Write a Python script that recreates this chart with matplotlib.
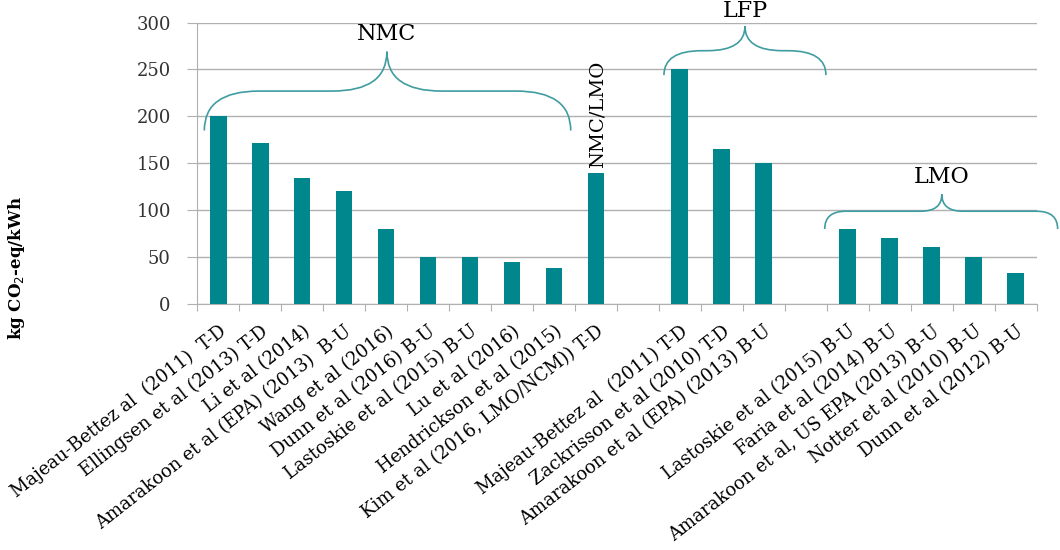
import numpy as np
import matplotlib.pyplot as plt
from matplotlib.path import Path
from matplotlib.patches import PathPatch

# studies in slot order, "" marks an empty slot between chemistry groups
studies = ["Majeau-Bettez al  (2011)  T-D", "Ellingsen et al (2013) T-D", "Li et al (2014)",
           "Amarakoon et al (EPA) (2013)  B-U", "Wang et al (2016)", "Dunn et al (2016) B-U",
           "Lastoskie et al (2015) B-U", "Lu et al (2016)", "Hendrickson et al (2015)",
           "Kim et al (2016, LMO/NCM)) T-D", "",
           "Majeau-Bettez al  (2011) T-D", "Zackrisson et al (2010) T-D", "Amarakoon et al (EPA) (2013) B-U", "",
           "Lastoskie et al (2015) B-U", "Faria et al (2014) B-U", "Amarakoon et al, US EPA (2013) B-U",
           "Notter et al (2010) B-U", "Dunn et al (2012) B-U"]
emissions = [200, 172, 134, 121, 80, 50, 50, 45, 38, 140, 0,
             250, 165, 150, 0,
             80, 70, 61, 50, 33]

bar_color = "#00878D"
brace_color = "#3F9CA0"
plt.rcParams['font.family'] = ["DejaVu Serif"]

fig = plt.figure(figsize=(10.6, 5.5), dpi=100)
ax = fig.add_axes([0.186, 0.447, 0.792, 0.512])

x = np.arange(len(studies))
heights = [v if s else np.nan for s, v in zip(studies, emissions)]
ax.bar(x, heights, width=0.4, color=bar_color, zorder=3)

ax.set_xlim(-0.5, len(studies) - 0.5)
ax.set_ylim(0, 300)
ax.set_yticks(range(0, 301, 50))
ax.grid(axis="y", color="#b0b0b0", linewidth=1.0, zorder=0)
ax.tick_params(axis="y", length=7, color="#b0b0b0", labelsize=13, pad=12, labelcolor="#333333")

# ticks between categories, labels at category centres
ax.set_xticks(np.arange(-0.5, len(studies)), labels=[])
ax.tick_params(axis="x", which="major", length=5, color="#b0b0b0")
ax.set_xticks(x, labels=studies, minor=True)
ax.tick_params(axis="x", which="minor", length=0, pad=13)
for lbl in ax.get_xticklabels(minor=True):
    lbl.set_rotation(38)
    lbl.set_ha("right")
    lbl.set_rotation_mode("anchor")
    lbl.set_fontsize(13)

for side in ["top", "right"]:
    ax.spines[side].set_visible(False)
ax.spines["left"].set_color("#b0b0b0")
ax.spines["bottom"].set_color("#b0b0b0")

fig.text(0.016, 0.513, "kg CO$_2$-eq/kWh", rotation=90, ha="center", va="center",
         fontsize=12, fontweight="bold")


def brace(x0, x1, xp, ybot, ymid, ytop, q):
    # curly brace opening downward, tip at (xp, ytop)
    verts = [(x0, ybot), (x0, ymid), (x0 + q, ymid),
             (xp - q, ymid), (xp, ymid), (xp, ytop),
             (xp, ymid), (xp + q, ymid),
             (x1 - q, ymid), (x1, ymid), (x1, ybot)]
    codes = [Path.MOVETO, Path.CURVE3, Path.CURVE3,
             Path.LINETO, Path.CURVE3, Path.CURVE3,
             Path.CURVE3, Path.CURVE3,
             Path.LINETO, Path.CURVE3, Path.CURVE3]
    ax.add_patch(PathPatch(Path(verts, codes), fill=False, edgecolor=brace_color,
                           linewidth=1.2, clip_on=False, zorder=4))


brace(-0.33, 8.4, 4.02, 185, 227, 269, 1.3)
ax.text(4.02, 281, "NMC", ha="center", va="baseline", fontsize=16, clip_on=False)
brace(10.62, 14.48, 12.55, 244, 270, 296, 0.9)
ax.text(12.55, 306, "LFP", ha="center", va="baseline", fontsize=16, clip_on=False)
brace(14.45, 20.0, 17.24, 80, 99, 117, 0.5)
ax.text(17.24, 129, "LMO", ha="center", va="baseline", fontsize=16, clip_on=False)
ax.text(9.05, 145, "NMC/LMO", rotation=90, ha="center", va="bottom", fontsize=14)

fig.savefig("out.png", dpi=100)
